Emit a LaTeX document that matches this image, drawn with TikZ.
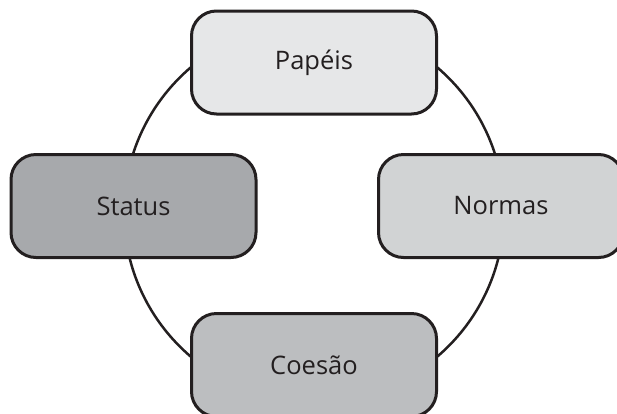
\documentclass[tikz,border=0pt]{standalone}
\usepackage{fontspec}
\setmainfont{Open Sans}
\definecolor{tinta}{HTML}{231F20}
\definecolor{cinzaA}{HTML}{E6E7E8}
\definecolor{cinzaB}{HTML}{D1D3D4}
\definecolor{cinzaC}{HTML}{BCBEC0}
\definecolor{cinzaD}{HTML}{A7A9AC}
\begin{document}
\begin{tikzpicture}[x=1pt, y=-1pt,
	caixa/.style={draw=tinta, line width=3pt, rounded corners=25pt, minimum width=245pt, minimum height=103pt, text=tinta, font=\fontsize{25.5}{30}\selectfont}]
	\useasboundingbox (0,0) rectangle (617,413);
	\coordinate (centro) at (314,212);
	\draw[tinta, line width=2.5pt] (centro) circle (190pt);
	\node[caixa, fill=cinzaA] (papeis) at (314,62.5) {Papéis};
	\node[caixa, fill=cinzaD] (status) at (133.5,206) {Status};
	\node[caixa, fill=cinzaB] (normas) at (501,206) {Normas};
	\node[caixa, fill=cinzaC] (coesao) at (314,365) {Coesão};
\end{tikzpicture}
\end{document}
